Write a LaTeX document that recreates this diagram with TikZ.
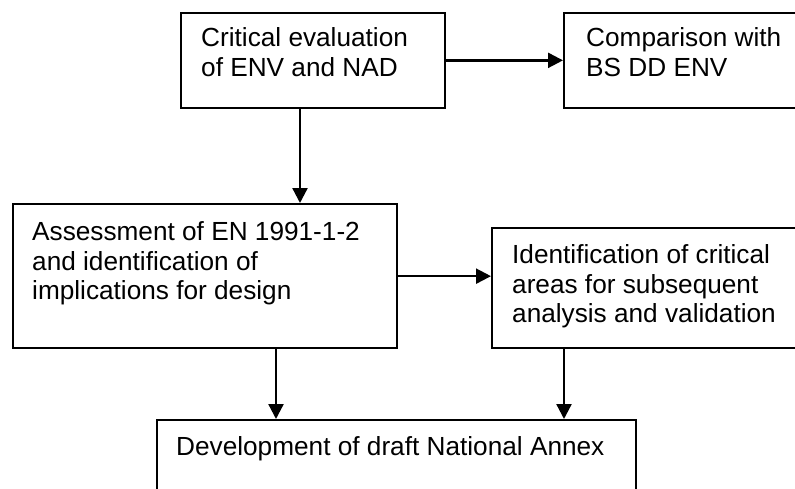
\documentclass[tikz,border=0pt]{standalone}
\usepackage{fontspec}
\setmainfont{Liberation Sans}
\usetikzlibrary{arrows.meta}
\begin{document}
\begin{tikzpicture}[x=1pt,y=-1pt,
  box/.style={draw=black,line width=2.3pt,rectangle,inner sep=0pt,anchor=north west},
  label/.style={anchor=north west,inner sep=0pt,align=left,font=\fontsize{26.2}{29.5}\selectfont},
  arr/.style={draw=black,line width=2.3pt,-{Triangle[length=15pt,width=15pt]}}]
\clip (0,0) rectangle (795,488);
\useasboundingbox (0,0) rectangle (795,488);
\node[box,minimum width=264.5pt,minimum height=95pt] (b1) at (179.5,11.7) {};
\node[box,minimum width=234pt,minimum height=95pt] (b2) at (563,12) {};
\node[box,minimum width=383.5pt,minimum height=144pt] (b3) at (12,203) {};
\node[box,minimum width=306pt,minimum height=120pt] (b4) at (491,227) {};
\node[box,minimum width=479pt,minimum height=75pt] (b5) at (156,419) {};
\node[label] (t1) at (201,27.5) {Critical evaluation\\of ENV and NAD};
\node[label] (t2) at (586,27.5) {Comparison with\\BS DD ENV};
\node[label] (t3) at (32,221.5) {Assessment of EN 1991-1-2\\and identification of\\implications for design};
\node[label] (t4) at (512,244.5) {Identification of critical\\areas for subsequent\\analysis and validation};
\node[label] (t5) at (176,436.5) {Development of draft National Annex};
\coordinate (xa) at (300,0);
\coordinate (xb) at (276,0);
\coordinate (xc) at (564,0);
\draw[arr] (b1.east) -- (b2.west |- b1.east);
\draw[arr] (xa |- b1.south) -- (xa |- b3.north);
\draw[arr] (b3.east) -- (b4.west |- b3.east);
\draw[arr] (xb |- b3.south) -- (xb |- b5.north);
\draw[arr] (xc |- b4.south) -- (xc |- b5.north);
\end{tikzpicture}
\end{document}
